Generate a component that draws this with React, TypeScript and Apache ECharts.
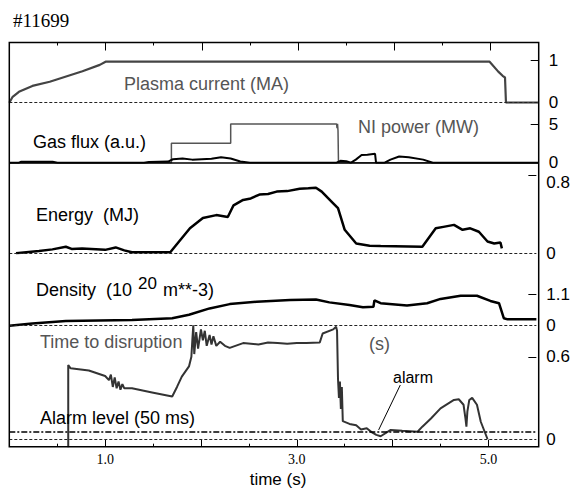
import React, { useEffect, useRef } from "react";
import * as echarts from "echarts";

// ---------- data (time in s) ----------
const tCurrent = [0, 0.035, 0.1, 0.24, 0.42, 0.76, 0.94, 1.0, 4.99, 5.08, 5.125, 5.15, 5.16, 5.5];
const plasmaCurrent = [0, 0.14, 0.26, 0.4, 0.5, 0.75, 0.9, 0.976, 0.976, 0.74, 0.64, 0.6, 0, 0];

const tNI = [0, 1.684, 1.684, 2.3, 2.3, 3.4, 3.405, 3.41, 3.415, 3.42, 5.5];
const niPower = [0, 0, 2.53, 2.53, 5.05, 5.05, 4.5, 5.05, 4.2, 0, 0];

const tGas = [0, 0.1, 0.12, 0.45, 0.5, 1.4, 1.45, 1.65, 1.7, 1.8, 1.9, 2.0, 2.1, 2.2, 2.3, 2.4, 2.5, 3.4, 3.44, 3.5, 3.55, 3.6, 3.66, 3.72, 3.8, 3.81, 3.9, 3.96, 4.05, 4.15, 4.3, 4.4, 5.5];
const gasFlux = [0, 0, 0.12, 0.12, 0, 0, 0.1, 0.15, 0.45, 0.55, 0.4, 0.45, 0.5, 0.7, 0.55, 0.15, 0, 0, 0.25, 0.2, 0, 0.4, 1.0, 1.05, 1.15, 0, 0, 0.4, 0.8, 0.7, 0.4, 0, 0];

const tEnergy = [0.07, 0.31, 0.45, 0.59, 0.65, 0.76, 1.0, 1.11, 1.2, 1.28, 1.68, 1.78, 1.885, 2.02, 2.16, 2.28, 2.34, 2.44, 2.52, 2.61, 2.7, 2.79, 2.9, 3.03, 3.12, 3.2, 3.26, 3.38, 3.43, 3.5, 3.62, 3.76, 3.875, 4.31, 4.45, 4.53, 4.64, 4.73, 4.81, 4.9, 4.99, 5.06, 5.125, 5.14];
const energy = [0, 0.023, 0.04, 0.067, 0.045, 0.05, 0.035, 0.06, 0.03, 0.01, 0.01, 0.13, 0.255, 0.36, 0.39, 0.37, 0.49, 0.545, 0.56, 0.6, 0.605, 0.63, 0.635, 0.66, 0.665, 0.67, 0.63, 0.51, 0.46, 0.24, 0.1, 0.078, 0.075, 0.068, 0.255, 0.27, 0.29, 0.24, 0.255, 0.22, 0.12, 0.1, 0.11, 0.05];

const tDensity = [0, 0.24, 0.59, 1.28, 1.7, 1.875, 2.09, 2.3, 2.58, 2.93, 3.2, 3.34, 3.55, 3.69, 3.8, 3.81, 3.875, 4.15, 4.36, 4.5, 4.71, 4.88, 5.02, 5.11, 5.16, 5.2, 5.5];
const density = [0, 0.08, 0.16, 0.2, 0.26, 0.38, 0.6, 0.75, 0.83, 0.89, 0.91, 0.81, 0.72, 0.64, 0.66, 0.88, 0.78, 0.7, 0.78, 0.93, 1.04, 1.04, 0.86, 0.78, 0.26, 0.22, 0.22];

const tDisrupt = [0.615, 0.615, 0.64, 0.83, 1.0, 1.04, 1.06, 1.08, 1.1, 1.12, 1.14, 1.16, 1.18, 1.2, 1.28, 1.49, 1.7, 1.75, 1.8, 1.875, 1.9, 1.91, 1.92, 1.93, 1.95, 1.97, 2.0, 2.02, 2.04, 2.06, 2.09, 2.11, 2.13, 2.16, 2.2, 2.25, 2.3, 2.44, 2.6, 2.7, 2.8, 2.9, 3.0, 3.1, 3.24, 3.27, 3.38, 3.41, 3.42, 3.43, 3.44, 3.45, 3.46, 3.47, 3.48, 3.55, 3.62, 3.67, 3.73, 3.78, 3.83, 3.875, 3.98, 4.1, 4.26, 4.31, 4.4, 4.5, 4.64, 4.69, 4.74, 4.76, 4.77, 4.78, 4.8, 4.83, 4.88, 4.92, 4.99];
const timeToDisruption = [-0.06, 0.54, 0.516, 0.5, 0.46, 0.43, 0.47, 0.38, 0.45, 0.37, 0.42, 0.36, 0.4, 0.37, 0.37, 0.34, 0.31, 0.38, 0.455, 0.53, 0.6, 0.72, 0.83, 0.62, 0.78, 0.66, 0.8, 0.72, 0.79, 0.68, 0.76, 0.69, 0.75, 0.68, 0.71, 0.68, 0.665, 0.7, 0.69, 0.705, 0.7, 0.695, 0.7, 0.7, 0.705, 0.77, 0.8, 0.82, 0.79, 0.44, 0.3, 0.42, 0.22, 0.38, 0.13, 0.11, 0.1, 0.07, 0.078, 0.05, 0.03, 0.02, 0.066, 0.06, 0.053, 0.09, 0.15, 0.224, 0.285, 0.29, 0.25, 0.15, 0.09, 0.2, 0.285, 0.3, 0.25, 0.126, 0];

const alarmLevel = 0.05;
const alarmPointer = [[3.854, 0.066], [4.08, 0.394]];

const xMajorTicks = [1, 2, 3, 4, 5];
const xMinorTicks = [0.5, 1.5, 2.5, 3.5, 4.5];
const xTickLabels = [1, 3, 5];

// right-axis ticks per panel
const currentTicks = [1];
const currentLabels = [0, 1];
const niTicks = [5];
const niLabels = [0, 5];
const energyTicks = [0.8];
const energyLabels = [0, 0.8];
const densityTicks = [1.1];
const densityLabels = [0, 1.1];
const disruptTicks = [0.6];
const disruptLabels = [0, 0.6];

// ---------- layout ----------
const FRAME_L = 9.3;
const FRAME_R = 538.7;
const PANEL_EDGES = [42.5, 102.7, 162.7, 253.3, 325.7, 446.7];
const Y_RANGES: [number, number][] = [
  [0, 1.433],
  [0, 7.81],
  [0, 0.925],
  [0, 2.514],
  [-0.0562, 0.827],
];

const SANS = '"Liberation Sans", Arial, sans-serif';
const SERIF = '"Liberation Serif", "Times New Roman", serif';

const pairs = (t: number[], v: number[]) => t.map((x, i) => [x, v[i]]);

const dashedZero = { yAxis: 0, lineStyle: { type: [3, 2], width: 1, color: "#222" } };

function yAxisFor(gridIndex: number, ticks: number[], labels: number[], lowered = false) {
  const [min, max] = Y_RANGES[gridIndex];
  const labelStyle: any = {
    show: true,
    customValues: labels,
    margin: 10,
    color: "#000",
    fontSize: 17,
    fontFamily: SANS,
  };
  if (lowered) {
    labelStyle.formatter = (v: number) => (v === 0 ? String(v) : `{low|${v}}`);
    labelStyle.rich = { low: { padding: [16, 0, 0, 0], fontSize: 17, fontFamily: SANS, color: "#000" } };
  }
  return {
    type: "value",
    gridIndex,
    position: "right",
    min,
    max,
    axisLine: { show: false, onZero: false },
    splitLine: { show: false },
    axisTick: { show: true, inside: true, length: 8, customValues: ticks, lineStyle: { color: "#000", width: 1 } },
    axisLabel: labelStyle,
  };
}

function xAxisFor(gridIndex: number, position: string | null, ticks: number[] | null, len: number, labels: number[] | null) {
  if (!position) {
    return { type: "value", gridIndex, min: 0, max: 5.5, show: false, axisLine: { onZero: false } };
  }
  return {
    type: "value",
    gridIndex,
    position,
    min: 0,
    max: 5.5,
    axisLine: { show: false, onZero: false },
    splitLine: { show: false },
    axisTick: { show: true, inside: true, length: len, customValues: ticks, lineStyle: { color: "#000", width: 1 } },
    axisLabel: labels
      ? {
          show: true,
          customValues: labels,
          margin: 6,
          color: "#000",
          fontSize: 14,
          fontFamily: SERIF,
          formatter: (v: number) => v.toFixed(1),
        }
      : { show: false },
  };
}

function label(text: string, x: number, y: number, fill: string, size = 18, family = SANS) {
  return {
    type: "text",
    x,
    y,
    z: 100,
    style: { text, fill, font: `${size}px ${family}`, verticalAlign: "middle", align: "left" },
  };
}

export default function App() {
  const ref = useRef<HTMLDivElement>(null);

  useEffect(() => {
    if (!ref.current) return;
    const chart = echarts.init(ref.current, null, { renderer: "svg" });

    const grids = PANEL_EDGES.slice(0, 5).map((top, i) => ({
      left: FRAME_L,
      top,
      width: FRAME_R - FRAME_L,
      height: PANEL_EDGES[i + 1] - top,
    }));

    const option: any = {
      animation: false,
      backgroundColor: "#fff",
      grid: grids,
      xAxis: [
        xAxisFor(0, "top", xMajorTicks, 8, null),
        xAxisFor(0, "top", xMinorTicks, 3, null),
        xAxisFor(1, null, null, 0, null),
        xAxisFor(2, null, null, 0, null),
        xAxisFor(3, null, null, 0, null),
        xAxisFor(4, "bottom", xMajorTicks, 7, xTickLabels),
        xAxisFor(4, "bottom", xMinorTicks, 3, null),
      ],
      yAxis: [
        yAxisFor(0, currentTicks, currentLabels),
        yAxisFor(1, niTicks, niLabels),
        yAxisFor(2, energyTicks, energyLabels, true),
        yAxisFor(3, densityTicks, densityLabels),
        yAxisFor(4, disruptTicks, disruptLabels),
      ],
      series: [
        {
          name: "Plasma current",
          type: "line",
          xAxisIndex: 0,
          yAxisIndex: 0,
          data: pairs(tCurrent, plasmaCurrent),
          showSymbol: false,
          lineStyle: { color: "#444", width: 2.2 },
          markLine: { silent: true, symbol: ["none", "none"], label: { show: false }, data: [dashedZero] },
        },
        {
          name: "NI power",
          type: "line",
          xAxisIndex: 2,
          yAxisIndex: 1,
          data: pairs(tNI, niPower),
          showSymbol: false,
          lineStyle: { color: "#555", width: 1.5 },
          markLine: {
            silent: true,
            symbol: ["none", "none"],
            label: { show: false },
            data: [{ yAxis: 0, lineStyle: { type: "solid", width: 1.5, color: "#000" } }],
          },
        },
        {
          name: "Gas flux",
          type: "line",
          xAxisIndex: 2,
          yAxisIndex: 1,
          data: pairs(tGas, gasFlux),
          showSymbol: false,
          lineStyle: { color: "#000", width: 2 },
        },
        {
          name: "Energy",
          type: "line",
          xAxisIndex: 3,
          yAxisIndex: 2,
          data: pairs(tEnergy, energy),
          showSymbol: false,
          lineStyle: { color: "#000", width: 2.5 },
          markLine: { silent: true, symbol: ["none", "none"], label: { show: false }, data: [dashedZero] },
        },
        {
          name: "Density",
          type: "line",
          xAxisIndex: 4,
          yAxisIndex: 3,
          data: pairs(tDensity, density),
          showSymbol: false,
          lineStyle: { color: "#000", width: 2.5 },
          markLine: { silent: true, symbol: ["none", "none"], label: { show: false }, data: [dashedZero] },
        },
        {
          name: "Time to disruption",
          type: "line",
          xAxisIndex: 5,
          yAxisIndex: 4,
          data: pairs(tDisrupt, timeToDisruption),
          showSymbol: false,
          lineStyle: { color: "#333", width: 2 },
          markLine: {
            silent: true,
            symbol: ["none", "none"],
            label: { show: false },
            data: [
              dashedZero,
              { yAxis: alarmLevel, lineStyle: { type: [6, 2, 2, 2], width: 1.5, color: "#000" } },
              [
                { coord: alarmPointer[0], lineStyle: { type: "solid", width: 1, color: "#000" } },
                { coord: alarmPointer[1] },
              ],
            ],
          },
        },
      ],
      graphic: [
        {
          type: "rect",
          z: 100,
          shape: { x: FRAME_L, y: PANEL_EDGES[0], width: FRAME_R - FRAME_L, height: PANEL_EDGES[5] - PANEL_EDGES[0] },
          style: { fill: "none", stroke: "#000", lineWidth: 1.5 },
        },
        label("#11699", 13, 20, "#000", 19, SERIF),
        label("Plasma current (MA)", 124, 84, "#555"),
        label("Gas flux (a.u.)", 33, 142, "#000"),
        label("NI power (MW)", 358, 127, "#555"),
        label("Energy  (MJ)", 36, 215, "#000"),
        label("Density  (10", 36, 290, "#000"),
        label("20", 138, 283, "#000", 17),
        label("m**-3)", 163, 290, "#000"),
        label("Time to disruption", 40, 342, "#555"),
        label("(s)", 369, 344, "#555"),
        label("Alarm level (50 ms)", 40, 418, "#000"),
        label("alarm", 393, 377, "#000", 16),
        {
          type: "text",
          x: 278,
          y: 479,
          z: 100,
          style: { text: "time (s)", fill: "#000", font: `17px ${SANS}`, verticalAlign: "middle", align: "center" },
        },
      ],
    };

    chart.setOption(option);
    return () => chart.dispose();
  }, []);

  return (
    <div
      ref={ref}
      style={{ position: "fixed", left: 0, top: 0, width: 573, height: 490, background: "#fff" }}
    />
  );
}
